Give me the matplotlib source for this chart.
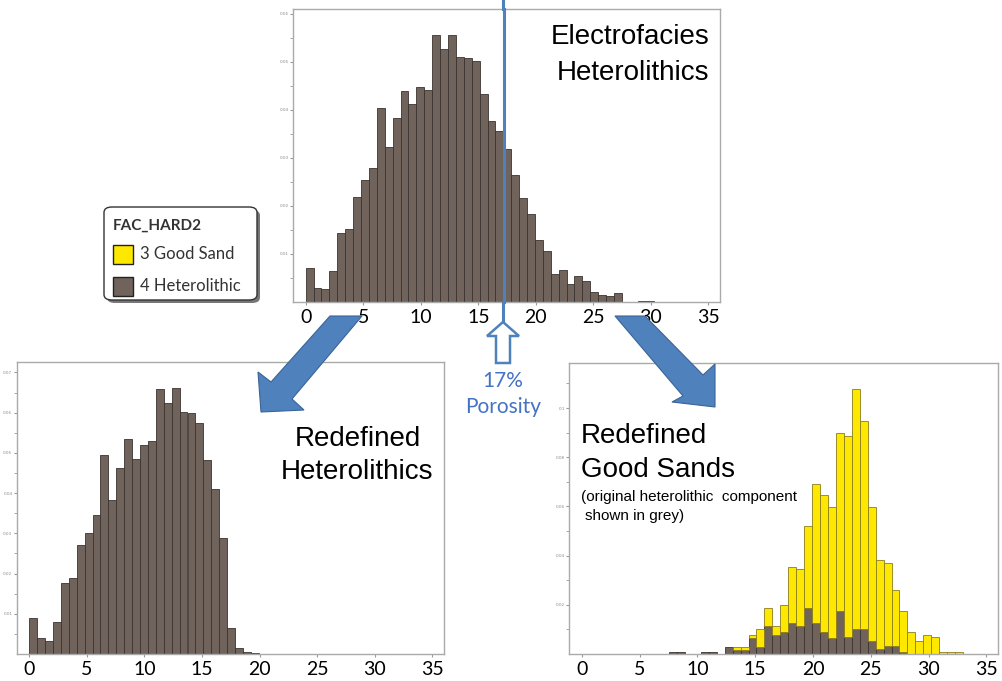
import numpy as np
import matplotlib
matplotlib.use("Agg")
import matplotlib.pyplot as plt
from matplotlib.patches import Polygon, FancyBboxPatch, Rectangle

W, H = 1002, 681

# histogram bin width (porosity %), bins start at 0
bin_width = 0.687

# Electrofacies heterolithics (frequency, %)
hetero_all = [0.70, 0.30, 0.28, 0.65, 1.43, 1.53, 2.19, 2.54, 2.79, 4.03,
              3.22, 3.83, 4.39, 4.13, 4.48, 4.42, 5.56, 5.26, 5.56, 5.11,
              5.09, 5.02, 4.32, 3.76, 3.57, 3.18, 2.65, 2.16, 1.83, 1.30,
              1.07, 0.59, 0.66, 0.37, 0.54, 0.43, 0.21, 0.14, 0.12, 0.19,
              0.01, 0.01, 0.03, 0.03]

# Redefined heterolithics (< 17 % porosity)
hetero_redef = [0.90, 0.39, 0.32, 0.79, 1.77, 1.88, 2.72, 3.02, 3.45, 4.96,
                3.84, 4.63, 5.35, 4.85, 5.19, 5.30, 6.58, 6.23, 6.61, 6.02,
                6.00, 5.75, 4.83, 4.09, 2.89, 0.65, 0.14, 0.06, 0.02, 0.01,
                0.01]

# Redefined good sands: original heterolithic part + good sand part
sand_grey = [0, 0, 0, 0, 0, 0, 0, 0, 0, 0,
             0, 0.07, 0.07, 0, 0, 0.07, 0.07, 0, 0.30, 0.16,
             0.16, 0.66, 0.30, 1.15, 0.77, 0.91, 1.25, 1.15, 1.86, 1.25,
             0.91, 0.64, 1.76, 0.68, 1.02, 1.02, 0.54, 0.20, 0.33, 0.33,
             0.07, 0, 0, 0, 0, 0, 0, 0]
sand_yellow = [0, 0, 0, 0, 0, 0, 0, 0, 0, 0,
               0, 0, 0, 0, 0, 0, 0, 0, 0, 0.14,
               0.14, 0.11, 0.70, 0.71, 0.37, 1.08, 2.30, 2.29, 3.35, 5.68,
               5.55, 5.35, 7.23, 8.18, 9.77, 8.45, 5.45, 3.62, 3.35, 2.27,
               1.69, 0.88, 0.53, 0.77, 0.68, 0.07, 0.07, 0.07]

x_ticks = [0, 5, 10, 15, 20, 25, 30, 35]
cutoff = 17.2

BROWN = "#6f635b"
BROWN_EDGE = "#3b3330"
YELLOW = "#ffe800"
YELLOW_EDGE = "#8c7d1e"
BLUE = "#4f81bd"
BLUE_DARK = "#3a6496"
TEXT_BLUE = "#4472c4"

fig = plt.figure(figsize=(W / 100, H / 100), dpi=100)
fig.patch.set_facecolor("white")


def px(x, y):
    return (x / W, 1 - y / H)


def add_axes(l, t, r, b):
    x0, y1 = px(l, t)
    x1, y0 = px(r, b)
    return fig.add_axes([x0, y0, x1 - x0, y1 - y0])


def style(ax, ymax, ystep):
    ax.set_xlim(-1.1, 36.0)
    ax.set_ylim(0, ymax)
    ax.set_xticks(x_ticks)
    ax.set_xticklabels([str(t) for t in x_ticks], family="Lato", fontsize=14)
    yt = np.arange(ystep, ymax, ystep)
    ax.set_yticks(yt)
    ax.set_yticklabels(["%g" % (v / 100) for v in yt], fontsize=3, color="#888888")
    ax.set_yticks(np.arange(ystep / 2, ymax, ystep), minor=True)
    ax.tick_params(axis="x", length=2, color="#999999", pad=3)
    ax.tick_params(axis="y", which="both", length=2, color="#999999", pad=1)
    for s in ax.spines.values():
        s.set_color("#aaaaaa")
        s.set_linewidth(1.0)


def bars(ax, vals, bottom=None, color=BROWN, edge=BROWN_EDGE):
    vals = np.asarray(vals, dtype=float)
    left = np.arange(len(vals)) * bin_width
    base = np.zeros_like(vals) if bottom is None else np.asarray(bottom, dtype=float)
    keep = vals > 0
    ax.bar(left[keep], vals[keep], width=bin_width, bottom=base[keep], align="edge",
           color=color, edgecolor=edge, linewidth=0.6)


# block arrows drawn first so the top chart sits over their tails
left_arrow = [(330, 316), (362, 316), (292, 399), (304, 410), (261, 412),
              (258, 372), (271, 382)]
right_arrow = [(615, 316), (645, 316), (703, 375), (715, 364), (715, 407),
               (672, 402), (683, 396)]
for pts in (left_arrow, right_arrow):
    fig.patches.append(Polygon([px(*p) for p in pts], closed=True,
                               transform=fig.transFigure, facecolor=BLUE,
                               edgecolor=BLUE_DARK, linewidth=0.8, zorder=1))

# top chart
ax1 = add_axes(293, 9, 720, 302)
bars(ax1, hetero_all)
style(ax1, 6.10, 1.0)
ax1.axvline(cutoff, ymin=0, ymax=1, color=BLUE, lw=2.2, zorder=5, clip_on=False)
ax1.text(0.975, 0.905, "Electrofacies", transform=ax1.transAxes, ha="right",
         va="center", family="Liberation Sans", fontsize=20)
ax1.text(0.975, 0.782, "Heterolithics", transform=ax1.transAxes, ha="right",
         va="center", family="Liberation Sans", fontsize=20)

# bottom left chart
ax2 = add_axes(16.5, 362, 444, 654)
bars(ax2, hetero_redef)
style(ax2, 7.26, 1.0)

# bottom right chart
ax3 = add_axes(569, 363, 998, 654)
bars(ax3, sand_grey)
bars(ax3, sand_yellow, bottom=sand_grey, color=YELLOW, edge=YELLOW_EDGE)
style(ax3, 11.83, 2.0)

# cutoff line above and below the top chart
for y_a, y_b in ((1, 9), (302, 322)):
    (xa, ya), (xb, yb) = px(503, y_a), px(503, y_b)
    fig.lines.append(plt.Line2D([xa, xb], [ya, yb], transform=fig.transFigure,
                                color=BLUE, lw=2.2))

# hollow porosity arrow
up = [(503, 322), (519, 336), (510, 336), (510, 363), (496, 363), (496, 336), (487, 336)]
fig.patches.append(Polygon([px(*p) for p in up], closed=True, transform=fig.transFigure,
                           facecolor="white", edgecolor=BLUE, linewidth=1.8, zorder=6))
fig.text(*px(503, 381), "17%", ha="center", va="center", family="Lato", fontsize=15,
         color=TEXT_BLUE)
fig.text(*px(503, 407), "Porosity", ha="center", va="center", family="Lato", fontsize=15,
         color=TEXT_BLUE)

# titles of bottom charts
fig.text(*px(358, 439), "Redefined", ha="center", va="center", family="Liberation Sans", fontsize=20)
fig.text(*px(357, 472), "Heterolithics", ha="center", va="center", family="Liberation Sans", fontsize=20)
fig.text(*px(581, 436), "Redefined", ha="left", va="center", family="Liberation Sans", fontsize=20)
fig.text(*px(581, 470), "Good Sands", ha="left", va="center", family="Liberation Sans", fontsize=20)
fig.text(*px(581, 497), "(original heterolithic  component", ha="left", va="center",
         family="Liberation Sans", fontsize=11)
fig.text(*px(585, 516), "shown in grey)", ha="left", va="center",
         family="Liberation Sans", fontsize=11)

# legend box
lx0, ly0 = px(104, 300)
lx1, ly1 = px(257, 207)
sh = FancyBboxPatch((lx0 + 3 / W, ly0 - 3 / H), lx1 - lx0, ly1 - ly0,
                    boxstyle="round,pad=0,rounding_size=0.008", transform=fig.transFigure,
                    facecolor="#777777", edgecolor="none", zorder=7)
bx = FancyBboxPatch((lx0, ly0), lx1 - lx0, ly1 - ly0,
                    boxstyle="round,pad=0,rounding_size=0.008", transform=fig.transFigure,
                    facecolor="white", edgecolor="#333333", linewidth=1.0, zorder=8)
fig.patches.extend([sh, bx])
fig.text(*px(113, 226), "FAC_HARD2", ha="left", va="center", family="Lato",
         fontweight="bold", fontsize=11, color="#333333", zorder=9)
legend_items = [("3 Good Sand", YELLOW, 254), ("4 Heterolithic", BROWN, 286)]
for label, col, yc in legend_items:
    sx, sy = px(113, yc + 10)
    fig.patches.append(Rectangle((sx, sy), 20 / W, 19 / H, transform=fig.transFigure,
                                 facecolor=col, edgecolor="#222222", linewidth=1.0, zorder=9))
    fig.text(*px(140, yc), label, ha="left", va="center", family="Lato", fontsize=12,
             color="#333333", zorder=9)

fig.savefig("out.png", dpi=100, facecolor="white")
